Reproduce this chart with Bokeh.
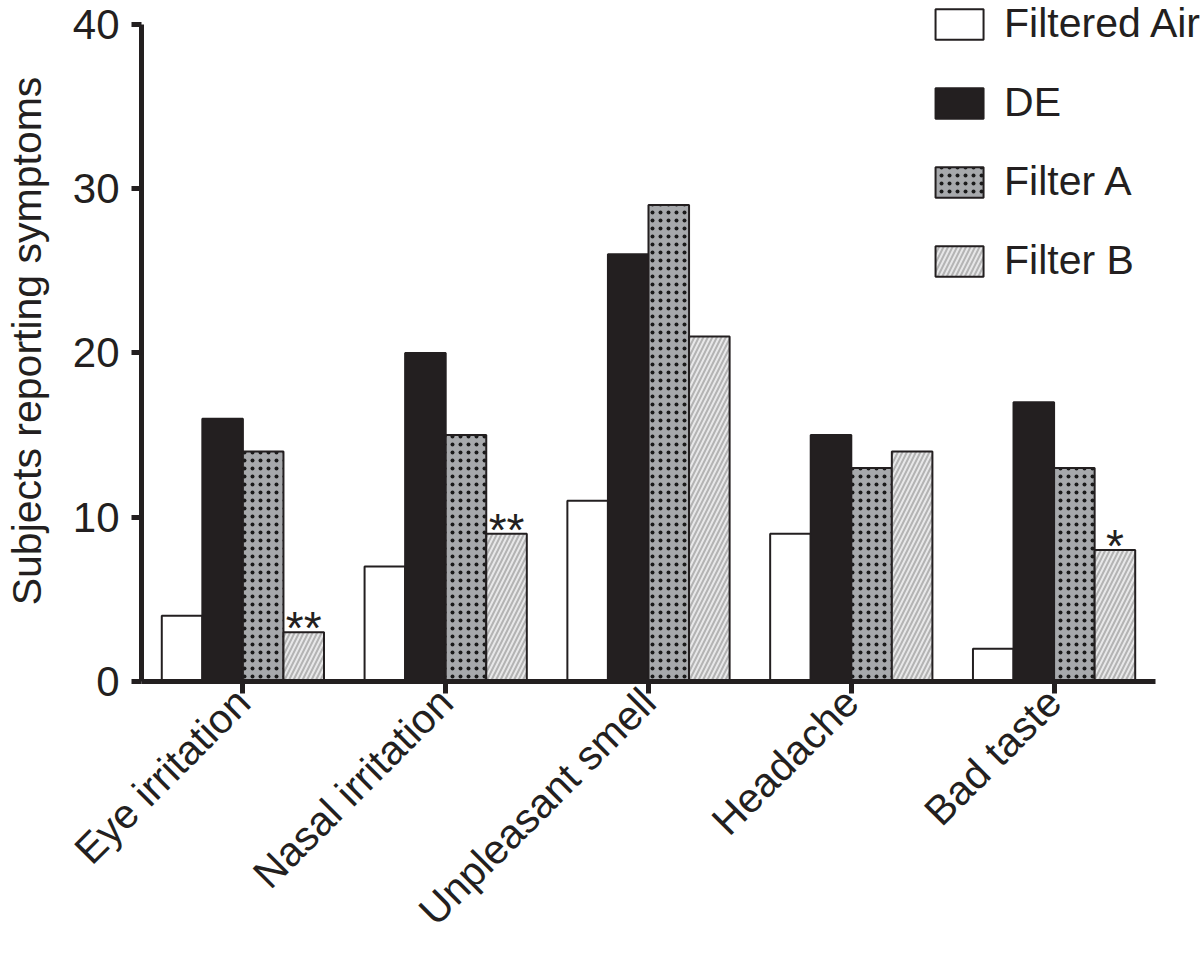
import math
from bokeh.plotting import figure
from bokeh.models import Range1d, FixedTicker, Legend, LegendItem, ColumnDataSource
from bokeh.core.properties import value
from bokeh.embed import file_html
from bokeh.resources import INLINE

# ---- data ----
symptoms = ["Eye irritation", "Nasal irritation", "Unpleasant smell", "Headache", "Bad taste"]
series_names = ["Filtered Air", "DE", "Filter A", "Filter B"]
filtered_air = [4, 7, 11, 9, 2]
de = [16, 20, 26, 15, 17]
filter_a = [14, 15, 29, 13, 13]
filter_b = [3, 9, 21, 14, 8]
significance = ["**", "**", "", "", "*"]
y_ticks = [0, 10, 20, 30, 40]

FONT = "Liberation Sans"
INK = "#231f20"

centers = [i + 0.5 for i in range(len(symptoms))]
bar_w = 0.2
offsets = [-0.3, -0.1, 0.1, 0.3]

p = figure(width=1200, height=953,
           x_range=Range1d(0, 5.222), y_range=Range1d(0, 41.45),
           output_backend="svg", toolbar_location=None,
           min_border_left=140, min_border_top=0,
           min_border_right=0, min_border_bottom=0)
p.grid.visible = False
p.outline_line_color = None
p.background_fill_color = "white"
p.border_fill_color = "white"

styles = [
    dict(fill_color="white"),
    dict(fill_color=INK),
    dict(fill_color="#a7a9ac", hatch_pattern="dot", hatch_color="#1a1a1a",
         hatch_scale=8, hatch_weight=0.8),
    dict(fill_color="#e8e8e9", hatch_pattern="right_diagonal_line",
         hatch_color="#b3b3b3", hatch_scale=9, hatch_weight=2.0),
]
values = [filtered_air, de, filter_a, filter_b]

items = []
for name, vals, off, st in zip(series_names, values, offsets, styles):
    src = ColumnDataSource(dict(x=[c + off for c in centers], top=vals))
    r = p.vbar(x="x", top="top", bottom=0, width=bar_w, source=src,
               line_color=INK, line_width=2, **st)
    items.append(LegendItem(label=name, renderers=[r]))

# significance marks above Filter B bars
sig_src = ColumnDataSource(dict(x=[c + offsets[3] for c in centers],
                                y=filter_b, t=significance))
p.text(x="x", y="y", text="t", source=sig_src, text_align="center",
       text_baseline="middle", y_offset=-4,
       text_font=value(FONT), text_font_size="46px", text_color=INK)

legend = Legend(items=items, location="top_right", margin=0, padding=0,
                border_line_alpha=0, background_fill_alpha=0,
                glyph_width=60, glyph_height=38, label_standoff=15,
                spacing=32, label_height=38,
                label_text_font=FONT, label_text_font_size="41px",
                label_text_color=INK)
p.add_layout(legend)

# x axis
xa = p.xaxis[0]
xa.ticker = FixedTicker(ticks=centers)
xa.major_label_overrides = {c: s for c, s in zip(centers, symptoms)}
xa.major_label_orientation = math.pi / 4
xa.bounds = (0, 5)
xa.axis_line_width = 5
xa.axis_line_color = INK
xa.major_tick_line_width = 5
xa.major_tick_line_color = INK
xa.major_tick_in = 0
xa.major_tick_out = 12
xa.minor_tick_line_color = None
xa.major_label_text_font = FONT
xa.major_label_text_font_size = "41px"
xa.major_label_text_color = INK
xa.major_label_standoff = 2

# y axis
ya = p.yaxis[0]
ya.ticker = FixedTicker(ticks=y_ticks)
ya.bounds = (0, 40)
ya.axis_line_width = 5
ya.axis_line_color = INK
ya.major_tick_line_width = 5
ya.major_tick_line_color = INK
ya.major_tick_in = 0
ya.major_tick_out = 10
ya.minor_tick_line_color = None
ya.major_label_text_font = FONT
ya.major_label_text_font_size = "42px"
ya.major_label_text_color = INK
ya.major_label_standoff = 12
ya.axis_label = "Subjects reporting symptoms"
ya.axis_label_text_font = FONT
ya.axis_label_text_font_size = "41px"
ya.axis_label_text_font_style = "normal"
ya.axis_label_text_color = INK
ya.axis_label_standoff = 20

open("out.html", "w").write(file_html(p, INLINE))
